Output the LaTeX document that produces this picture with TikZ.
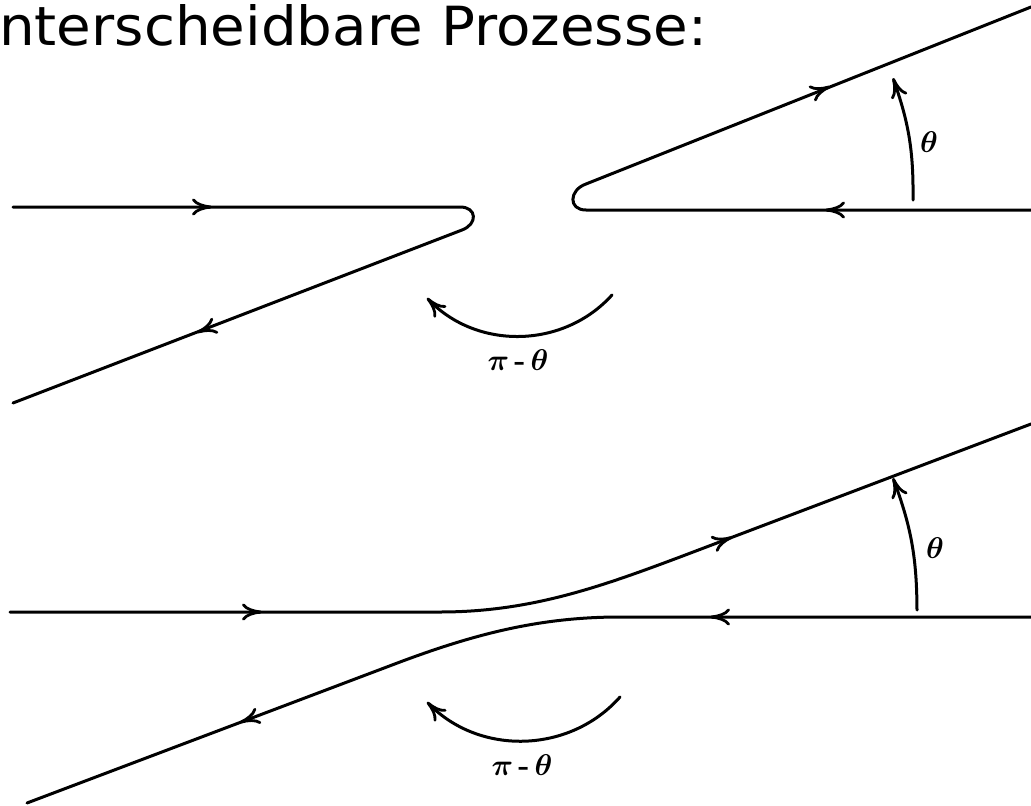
\documentclass[tikz,border=0pt]{standalone}
\usepackage{fix-cm}
\usepackage{bm}
\usepackage{fontspec}
\newfontfamily\titlefont{DejaVu Sans}
\usetikzlibrary{arrows.meta,calc}
\tikzset{
  ln/.style={line width=3pt, line cap=round, line join=round},
  tipstyle/.style={ln, -{Computer Modern Rightarrow[length=20pt,width=17pt,line width=2.8pt]}},
  lbl/.style={inner sep=0pt, font=\fontsize{30}{32}\selectfont},
}
\newcommand{\pimtheta}{$\bm{\pi}$\,\textbf{-}\,$\bm{\theta}$}
\begin{document}
\begin{tikzpicture}[x=1pt,y=-1pt]
\useasboundingbox (0,0) rectangle (1031,806);
% title
\node[anchor=base west, inner sep=0pt] (title) at (-1,45) {\resizebox{708pt}{41pt}{\titlefont nterscheidbare Prozesse:}};

% ---------- top diagram ----------
\coordinate (TLa) at (13,207);
\coordinate (TLb) at (460,207);
\coordinate (TLc) at (462,230);
\coordinate (TLd) at (13,403);
\draw[ln] (TLa) -- (TLb) .. controls (477,207) and (478,224) .. (TLc) -- (TLd);

\coordinate (TRa) at (1031,210);
\coordinate (TRb) at (586,210);
\coordinate (TRc) at (586,184);
\coordinate (TRd) at (1031,7);
\draw[ln] (TRa) -- (TRb) .. controls (568,210) and (569,190) .. (TRc) -- (TRd);

% arrowheads on top diagram
\coordinate (t1) at (212,207);
\draw[tipstyle] ($(t1)+(-4,0)$) -- (t1);
\coordinate (t2) at (197,332.5);
\draw[tipstyle] ($(t2)!4pt!(TLc)$) -- (t2);
\coordinate (t3) at (830,86.5);
\draw[tipstyle] ($(t3)!4pt!(TRc)$) -- (t3);
\coordinate (t4) at (825,210);
\draw[tipstyle] ($(t4)+(4,0)$) -- (t4);

% theta arc top
\coordinate (th1a) at (913,200);
\coordinate (th1b) at (893,78);
\draw[tipstyle] (th1a) to[bend right=10] (th1b);
\node[lbl] (th1) at (929,142) {$\bm{\theta}$};

% pi - theta arc top
\coordinate (pt1a) at (612,295);
\coordinate (pt1b) at (427,298);
\draw[tipstyle] (pt1a) to[bend left=47] (pt1b);
\node[lbl] (pt1) at (518,360) {\pimtheta};

% ---------- bottom diagram ----------
\coordinate (BUa) at (10,612);
\coordinate (BUb) at (440,612);
\coordinate (BUc) at (680,557);
\coordinate (BUd) at (1031,424);
\draw[ln] (BUa) -- (BUb) .. controls (530,612) and (600,587) .. (BUc) -- (BUd);

\coordinate (BLa) at (1031,617);
\coordinate (BLb) at (620,617);
\coordinate (BLc) at (400,662);
\coordinate (BLd) at (27,803);
\draw[ln] (BLa) -- (BLb) .. controls (540,617) and (475,634) .. (BLc) -- (BLd);

% arrowheads bottom diagram
\coordinate (b1) at (262,612);
\draw[tipstyle] ($(b1)+(-4,0)$) -- (b1);
\coordinate (b2) at (240,722.5);
\draw[tipstyle] ($(b2)!4pt!(BLc)$) -- (b2);
\coordinate (b3) at (732,537.2);
\draw[tipstyle] ($(b3)!4pt!(BUc)$) -- (b3);
\coordinate (b4) at (710,617);
\draw[tipstyle] ($(b4)+(4,0)$) -- (b4);

% theta arc bottom
\coordinate (th2a) at (917,610);
\coordinate (th2b) at (893,478);
\draw[tipstyle] (th2a) to[bend right=10] (th2b);
\node[lbl] (th2) at (935,548) {$\bm{\theta}$};

% pi - theta arc bottom
\coordinate (pt2a) at (620,697);
\coordinate (pt2b) at (427,702);
\draw[tipstyle] (pt2a) to[bend left=47] (pt2b);
\node[lbl] (pt2) at (522,765) {\pimtheta};
\end{tikzpicture}
\end{document}
